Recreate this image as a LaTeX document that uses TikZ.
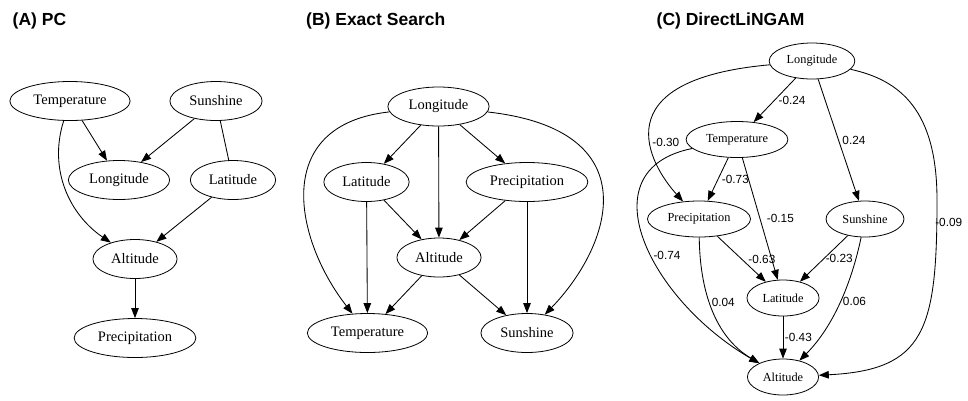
\documentclass[tikz,border=0pt]{standalone}
\usepackage{fontspec}
\setmainfont{Liberation Serif}
\setsansfont{Liberation Sans}
\usepackage{tikz}
\usetikzlibrary{arrows.meta, shapes.geometric}

\begin{document}
\begin{tikzpicture}[
        x=1pt, y=-1pt,
        var/.style={draw, ellipse, line width=0.8pt, inner xsep=6pt, minimum height=39pt, font=\fontsize{14.5}{16}\selectfont},
        varsmall/.style={var, inner xsep=5pt, minimum height=36pt, font=\fontsize{12.3}{14}\selectfont},
        title/.style={anchor=base west, inner sep=0pt, font=\sffamily\bfseries\fontsize{17.5}{20}\selectfont},
        lbl/.style={inner sep=3.5pt, font=\sffamily\fontsize{11.8}{13}\selectfont},
        arr/.style={-{Triangle[length=10pt, width=7.5pt]}, line width=0.85pt},
        und/.style={line width=0.85pt}
        ]
        \useasboundingbox (0,0) rectangle (968,400);

        % Titles
        \node[title] (titleA) at (12.5,25.5) {(A) PC};
        \node[title] (titleB) at (306,25.5) {(B) Exact Search};
        \node[title] (titleC) at (656.5,25.5) {(C) DirectLiNGAM};

        % Nodes (A)
        \node[var] (tempA) at (70,101) {Temperature};
        \node[var] (sunA) at (216,101) {Sunshine};
        \node[var] (lonA) at (119,180) {Longitude};
        \node[var] (latA) at (233,180) {Latitude};
        \node[var] (altA) at (135,259) {Altitude};
        \node[var] (precA) at (135,338) {Precipitation};

        % Arrows (A)
        \draw[arr] (tempA) -- (lonA);
        \draw[arr] (sunA) -- (lonA);
        \draw[und] (sunA) -- (latA);
        \draw[arr] (tempA) .. controls (48,170) and (70,215) .. (altA);
        \draw[arr] (latA) -- (altA);
        \draw[arr] (altA) -- (precA);

        % Nodes (B)
        \node[var] (lonB) at (438.5,106.5) {Longitude};
        \node[var] (latB) at (366.5,182) {Latitude};
        \node[var] (precB) at (527,182) {Precipitation};
        \node[var] (altB) at (439,257.5) {Altitude};
        \node[var] (tempB) at (367.5,333) {Temperature};
        \node[var] (sunB) at (527,333) {Sunshine};

        % Arrows (B)
        \draw[arr] (lonB) -- (latB);
        \draw[arr] (lonB) -- (altB);
        \draw[arr] (lonB) -- (precB);
        \draw[arr] (lonB) .. controls (270,125) and (295,240) .. (tempB);
        \draw[arr] (lonB) .. controls (650,130) and (612,245) .. (sunB);
        \draw[arr] (latB) -- (tempB);
        \draw[arr] (latB) -- (altB);
        \draw[arr] (precB) -- (altB);
        \draw[arr] (precB) -- (sunB);
        \draw[arr] (altB) -- (tempB);
        \draw[arr] (altB) -- (sunB);

        % Nodes (C)
        \node[varsmall] (lonC) at (812,61) {Longitude};
        \node[varsmall] (tempC) at (737,139.5) {Temperature};
        \node[varsmall] (precC) at (699,219) {Precipitation};
        \node[varsmall] (sunC) at (865,219) {Sunshine};
        \node[varsmall] (latC) at (783,298) {Latitude};
        \node[varsmall] (altC) at (783,377) {Altitude};

        % Arrows (C)
        \draw[arr] (lonC) -- node[lbl, right] {-0.24} (tempC);
        \draw[arr] (lonC) .. controls (600,80) and (650,165) .. node[lbl, pos=0.6, right, inner sep=1.5pt] {-0.30} (precC);
        \draw[arr] (lonC) -- node[lbl, right] {0.24} (sunC);
        \draw[arr] (lonC) .. controls (900,80) and (937,110) .. (937,200)
                   .. controls (937,330) and (925,370) .. node[lbl, pos=0.06, right, inner sep=0pt, xshift=-2pt] {-0.09} (altC);
        \draw[arr] (tempC) -- node[lbl, right] {-0.73} (precC);
        \draw[arr] (tempC) -- node[lbl, right, xshift=3pt] {-0.15} (latC);
        \draw[arr] (tempC) .. controls (585,170) and (650,300) .. node[lbl, pos=0.56, right, inner sep=1.5pt] {-0.74} (altC);
        \draw[arr] (precC) -- node[lbl, right, xshift=3pt] {-0.63} (latC);
        \draw[arr] (precC) .. controls (700,300) and (720,340) .. node[lbl, pos=0.4, right, inner sep=2pt] {0.04} (altC);
        \draw[arr] (sunC) -- node[lbl, right, inner sep=1.5pt] {-0.23} (latC);
        \draw[arr] (sunC) .. controls (850,290) and (830,330) .. node[lbl, pos=0.45, right, inner sep=2pt] {0.06} (altC);
        \draw[arr] (latC) -- node[lbl, right, inner sep=1.5pt] {-0.43} (altC);

\end{tikzpicture}
\end{document}
